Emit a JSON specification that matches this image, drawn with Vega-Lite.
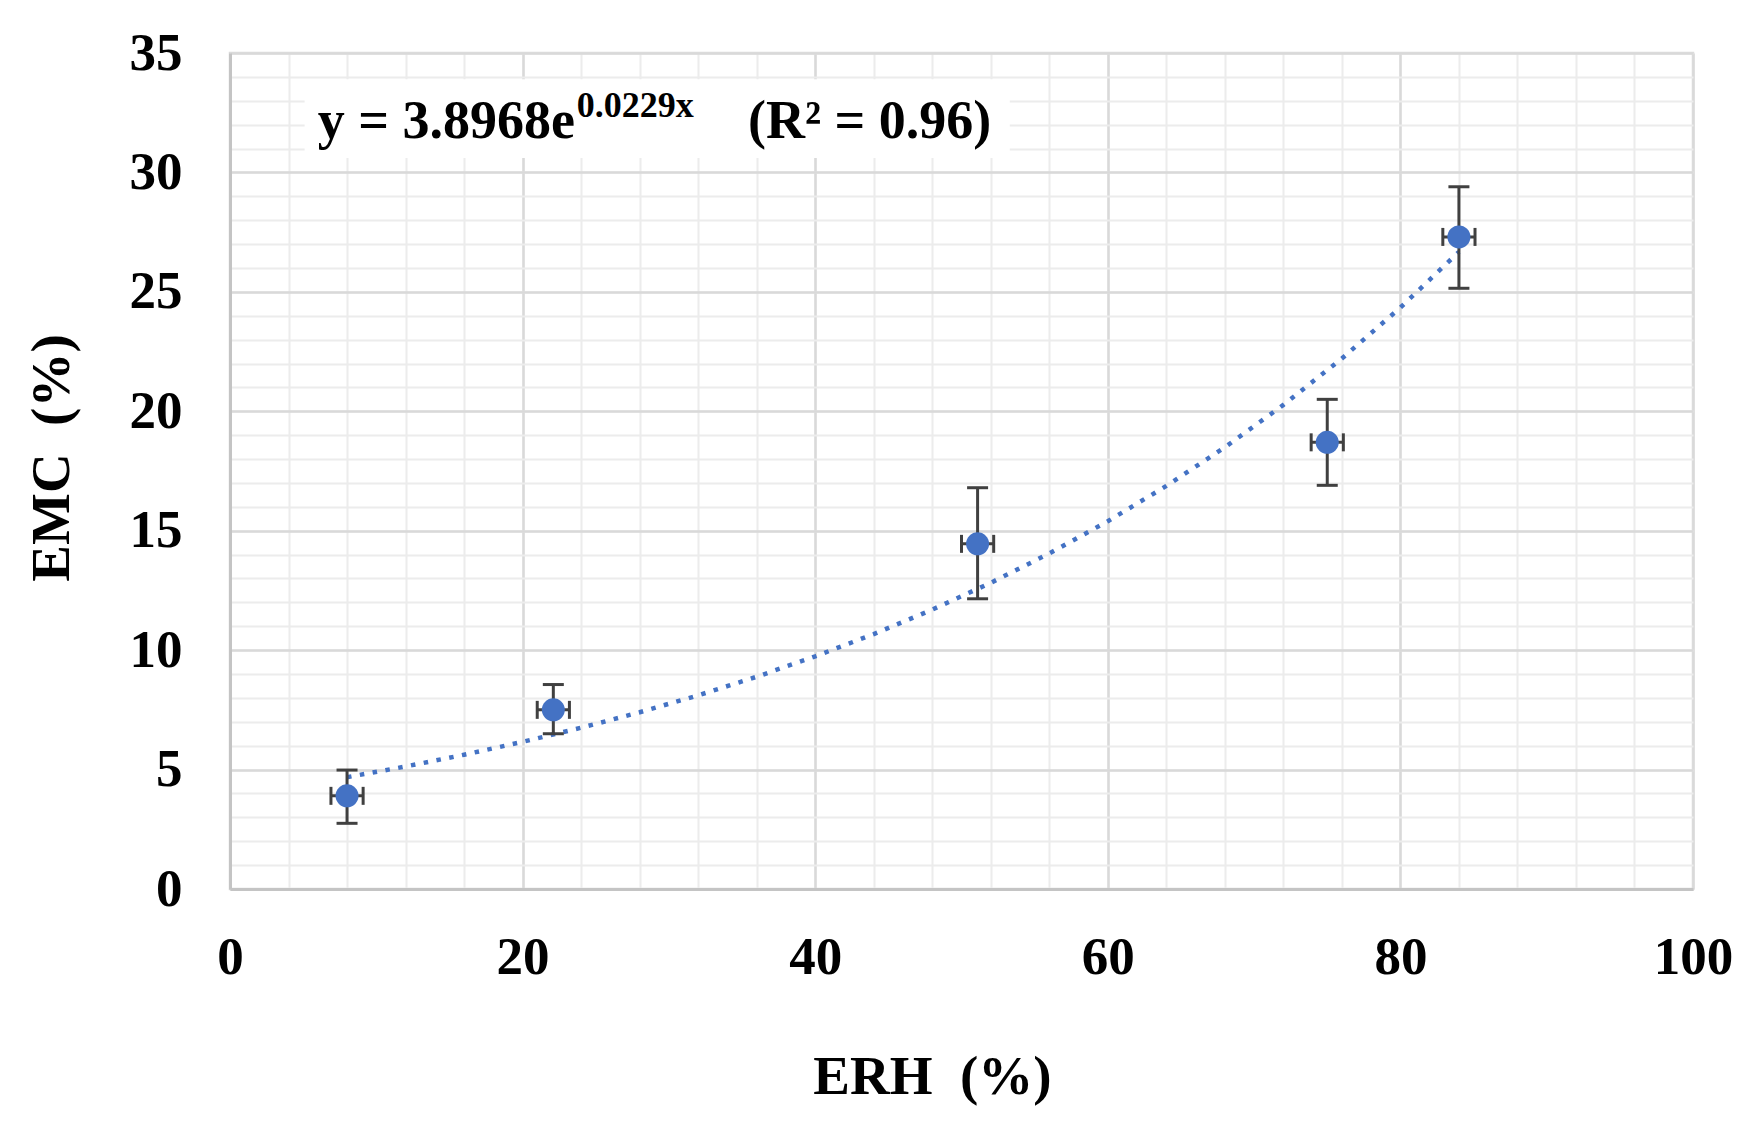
{
  "$schema": "https://vega.github.io/schema/vega-lite/v6.json",
  "width": 1463,
  "height": 836,
  "autosize": {"type": "none"},
  "padding": {"left": 230, "top": 53, "right": 71, "bottom": 243},
  "background": "white",
  "config": {"view": {"stroke": "#d9d9d9", "strokeWidth": 2.5}, "font": "Liberation Serif"},
  "resolve": {"axis": {"x": "independent", "y": "independent"}},
  "datasets": {
    "pts": [
      {"x": 8.0, "y": 3.9, "ylo": 2.75, "yhi": 4.98, "xlo": 6.9, "xhi": 9.1},
      {"x": 22.1, "y": 7.5, "ylo": 6.5, "yhi": 8.56, "xlo": 21.0, "xhi": 23.2},
      {"x": 51.1, "y": 14.45, "ylo": 12.15, "yhi": 16.8, "xlo": 50.0, "xhi": 52.2},
      {"x": 75.0, "y": 18.7, "ylo": 16.9, "yhi": 20.5, "xlo": 73.9, "xhi": 76.1},
      {"x": 84.0, "y": 27.3, "ylo": 25.15, "yhi": 29.4, "xlo": 82.9, "xhi": 85.1}
    ],
    "trend": [
      {"x": 8, "y": 4.680}, {"x": 12, "y": 5.129}, {"x": 16, "y": 5.621}, {"x": 20, "y": 6.160},
      {"x": 24, "y": 6.751}, {"x": 28, "y": 7.399}, {"x": 32, "y": 8.108}, {"x": 36, "y": 8.886},
      {"x": 40, "y": 9.739}, {"x": 44, "y": 10.673}, {"x": 48, "y": 11.697}, {"x": 52, "y": 12.819},
      {"x": 56, "y": 14.049}, {"x": 60, "y": 15.397}, {"x": 64, "y": 16.874}, {"x": 68, "y": 18.492},
      {"x": 72, "y": 20.266}, {"x": 76, "y": 22.210}, {"x": 80, "y": 24.341}, {"x": 84, "y": 26.676}
    ],
    "box": [{"x": 5.1, "x2": 53.3, "y": 30.6, "y2": 33.9}],
    "eqmain": [
      {"x": 6.0, "y": 31.43, "txt": "y = 3.8968e"},
      {"x": 35.4, "y": 31.43, "txt": "(R² = 0.96)"}
    ],
    "eqsup": [{"x": 23.7, "y": 32.31, "txt": "0.0229x"}]
  },
  "layer": [
    {
      "data": {"name": "box"},
      "mark": {"type": "rect", "fill": "white", "stroke": null},
      "encoding": {
        "x": {
          "field": "x", "type": "quantitative",
          "scale": {"domain": [0, 100], "nice": false, "zero": false},
          "axis": {
            "orient": "bottom",
            "title": null,
            "values": [0, 4, 8, 12, 16, 20, 24, 28, 32, 36, 40, 44, 48, 52, 56, 60, 64, 68, 72, 76, 80, 84, 88, 92, 96, 100],
            "labels": false, "ticks": false, "domain": false,
            "grid": true, "gridColor": "#ececec", "gridWidth": 2
          }
        },
        "x2": {"field": "x2"},
        "y": {
          "field": "y", "type": "quantitative",
          "scale": {"domain": [0, 35], "nice": false, "zero": false},
          "axis": {
            "orient": "left",
            "title": null,
            "values": [0, 1, 2, 3, 4, 5, 6, 7, 8, 9, 10, 11, 12, 13, 14, 15, 16, 17, 18, 19, 20, 21, 22, 23, 24, 25, 26, 27, 28, 29, 30, 31, 32, 33, 34, 35],
            "labels": false, "ticks": false, "domain": false,
            "grid": true, "gridColor": "#ececec", "gridWidth": 2
          }
        },
        "y2": {"field": "y2"}
      }
    },
    {
      "data": {"name": "eqmain"},
      "mark": {"type": "text", "align": "left", "baseline": "alphabetic", "font": "Liberation Serif", "fontWeight": "bold", "fontSize": 54, "color": "#000000"},
      "encoding": {
        "x": {"field": "x", "type": "quantitative", "axis": null},
        "y": {"field": "y", "type": "quantitative", "axis": null},
        "text": {"field": "txt"}
      }
    },
    {
      "data": {"name": "eqsup"},
      "mark": {"type": "text", "align": "left", "baseline": "alphabetic", "font": "Liberation Serif", "fontWeight": "bold", "fontSize": 36, "color": "#000000"},
      "encoding": {
        "x": {"field": "x", "type": "quantitative", "axis": null},
        "y": {"field": "y", "type": "quantitative", "axis": null},
        "text": {"field": "txt"}
      }
    },
    {
      "data": {"name": "trend"},
      "mark": {"type": "line", "color": "#4472C4", "strokeWidth": 4.5, "strokeDash": [4.5, 8.5], "strokeCap": "butt"},
      "encoding": {
        "x": {"field": "x", "type": "quantitative", "axis": null},
        "y": {"field": "y", "type": "quantitative", "axis": null}
      }
    },
    {
      "data": {"name": "pts"},
      "mark": {"type": "rule", "color": "#404040", "strokeWidth": 3},
      "encoding": {
        "x": {"field": "x", "type": "quantitative", "axis": null},
        "y": {"field": "ylo", "type": "quantitative", "axis": null},
        "y2": {"field": "yhi"}
      }
    },
    {
      "data": {"name": "pts"},
      "mark": {"type": "tick", "orient": "horizontal", "color": "#404040", "size": 21, "thickness": 3, "opacity": 1},
      "encoding": {
        "x": {"field": "x", "type": "quantitative", "axis": null},
        "y": {"field": "ylo", "type": "quantitative", "axis": null}
      }
    },
    {
      "data": {"name": "pts"},
      "mark": {"type": "tick", "orient": "horizontal", "color": "#404040", "size": 21, "thickness": 3, "opacity": 1},
      "encoding": {
        "x": {"field": "x", "type": "quantitative", "axis": null},
        "y": {"field": "yhi", "type": "quantitative", "axis": null}
      }
    },
    {
      "data": {"name": "pts"},
      "mark": {"type": "rule", "color": "#404040", "strokeWidth": 3},
      "encoding": {
        "x": {"field": "xlo", "type": "quantitative", "axis": null},
        "x2": {"field": "xhi"},
        "y": {"field": "y", "type": "quantitative", "axis": null}
      }
    },
    {
      "data": {"name": "pts"},
      "mark": {"type": "tick", "orient": "vertical", "color": "#404040", "size": 18, "thickness": 3, "opacity": 1},
      "encoding": {
        "x": {"field": "xlo", "type": "quantitative", "axis": null},
        "y": {"field": "y", "type": "quantitative", "axis": null}
      }
    },
    {
      "data": {"name": "pts"},
      "mark": {"type": "tick", "orient": "vertical", "color": "#404040", "size": 18, "thickness": 3, "opacity": 1},
      "encoding": {
        "x": {"field": "xhi", "type": "quantitative", "axis": null},
        "y": {"field": "y", "type": "quantitative", "axis": null}
      }
    },
    {
      "data": {"name": "pts"},
      "mark": {"type": "circle", "color": "#4472C4", "size": 530, "opacity": 1},
      "encoding": {
        "x": {
          "field": "x", "type": "quantitative",
          "scale": {"domain": [0, 100], "nice": false, "zero": false},
          "axis": {
            "orient": "bottom",
            "title": "ERH\u00a0 (%)",
            "values": [0, 20, 40, 60, 80, 100],
            "labelOverlap": false,
            "labelFlush": false,
            "labelFont": "Liberation Serif", "labelFontWeight": "bold", "labelColor": "#000000", "labelFontSize": 53,
            "labelPadding": 42,
            "ticks": false, "tickSize": 0,
            "domainColor": "#c4c4c4", "domainWidth": 3,
            "grid": true, "gridColor": "#d9d9d9", "gridWidth": 2.5,
            "titleFont": "Liberation Serif", "titleFontSize": 55, "titleFontWeight": "bold", "titleColor": "#000000",
            "titleX": 702, "titleY": 204, "titleBaseline": "alphabetic"
          }
        },
        "y": {
          "field": "y", "type": "quantitative",
          "scale": {"domain": [0, 35], "nice": false, "zero": false},
          "axis": {
            "orient": "left",
            "title": "EMC\u00a0 (%)",
            "values": [0, 5, 10, 15, 20, 25, 30, 35],
            "labelOverlap": false,
            "labelFont": "Liberation Serif", "labelFontWeight": "bold", "labelColor": "#000000", "labelFontSize": 53,
            "labelPadding": 48,
            "ticks": false, "tickSize": 0,
            "domainColor": "#c4c4c4", "domainWidth": 3,
            "grid": true, "gridColor": "#d9d9d9", "gridWidth": 2.5,
            "titleFont": "Liberation Serif", "titleFontSize": 55, "titleFontWeight": "bold", "titleColor": "#000000",
            "titleX": -162, "titleY": 404.5, "titleBaseline": "alphabetic", "titleAngle": -90
          }
        }
      }
    }
  ]
}
